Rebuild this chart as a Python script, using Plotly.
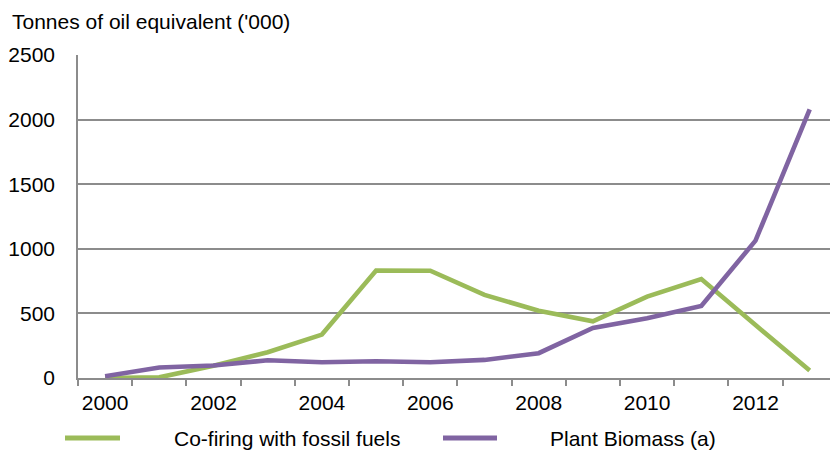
import plotly.graph_objects as go

years = list(range(2000, 2014))
cofiring = [0, 5, 95, 199, 336, 831, 830, 643, 521, 439, 630, 766, 410, 58]
biomass = [14, 81, 97, 137, 122, 130, 122, 140, 192, 388, 462, 558, 1063, 2079]
series_names = ["Co-firing with fossil fuels", "Plant Biomass (a)"]
label_years = [2000, 2002, 2004, 2006, 2008, 2010, 2012]
y_ticks = [0, 500, 1000, 1500, 2000, 2500]
y_title = "Tonnes of oil equivalent ('000)"

GREEN = "#9BBB59"
PURPLE = "#8064A2"
GRID = "#8C8C8C"
FONT = "Liberation Sans, Arial, sans-serif"

W, H = 830, 452
ML, MR, MT, MB = 78, 0, 55, 74
PW, PH = W - ML - MR, H - MT - MB


def px(x):
    return (x - ML) / PW


def py(y):
    return (H - MB - y) / PH


fig = go.Figure()
fig.add_trace(go.Scatter(x=years, y=cofiring, mode="lines", name=series_names[0],
                         line=dict(color=GREEN, width=4.6), showlegend=False))
fig.add_trace(go.Scatter(x=years, y=biomass, mode="lines", name=series_names[1],
                         line=dict(color=PURPLE, width=4.6), showlegend=False))

cat_w = 54.2
x_end = 1999.5 + PW / cat_w

fig.update_layout(
    width=W, height=H,
    margin=dict(l=ML, r=MR, t=MT, b=MB),
    paper_bgcolor="white", plot_bgcolor="white",
    font=dict(family=FONT, size=21, color="#000000"),
    xaxis=dict(
        range=[1999.5, x_end],
        tickmode="array", tickvals=label_years, ticktext=[str(v) for v in label_years],
        ticks="", showgrid=False, zeroline=False,
        showline=True, linecolor=GRID, linewidth=1.5,
        ticklabelstandoff=5,
        minor=dict(tickmode="array", tickvals=[y - 0.5 for y in years],
                   ticks="outside", ticklen=6, tickcolor=GRID, tickwidth=1.5, showgrid=False),
    ),
    yaxis=dict(
        range=[0, 2500],
        tickmode="array", tickvals=y_ticks,
        ticks="", showgrid=True, gridcolor=GRID, gridwidth=1.5,
        zeroline=False, showline=True, linecolor=GRID, linewidth=1.5,
        ticklabelstandoff=17,
    ),
)

# Title annotation
fig.add_annotation(text=y_title, xref="paper", yref="paper", x=px(10), y=py(22),
                   xanchor="left", yanchor="middle", showarrow=False,
                   font=dict(family=FONT, size=21, color="#000000"))

# Manual legend
legend_items = [(65, 120, 172, GREEN, series_names[0]), (443, 497, 548, PURPLE, series_names[1])]
ly = 438
for x0, x1, tx, col, name in legend_items:
    fig.add_shape(type="line", xref="paper", yref="paper", x0=px(x0), x1=px(x1), y0=py(ly), y1=py(ly),
                  line=dict(color=col, width=5))
    fig.add_annotation(text=name, xref="paper", yref="paper", x=px(tx), y=py(ly),
                       xanchor="left", yanchor="middle", showarrow=False,
                       font=dict(family=FONT, size=21, color="#000000"))

fig.write_html("out.html", config={"displayModeBar": False},
               post_script="document.body.style.margin='0';document.body.style.overflow='hidden';")
